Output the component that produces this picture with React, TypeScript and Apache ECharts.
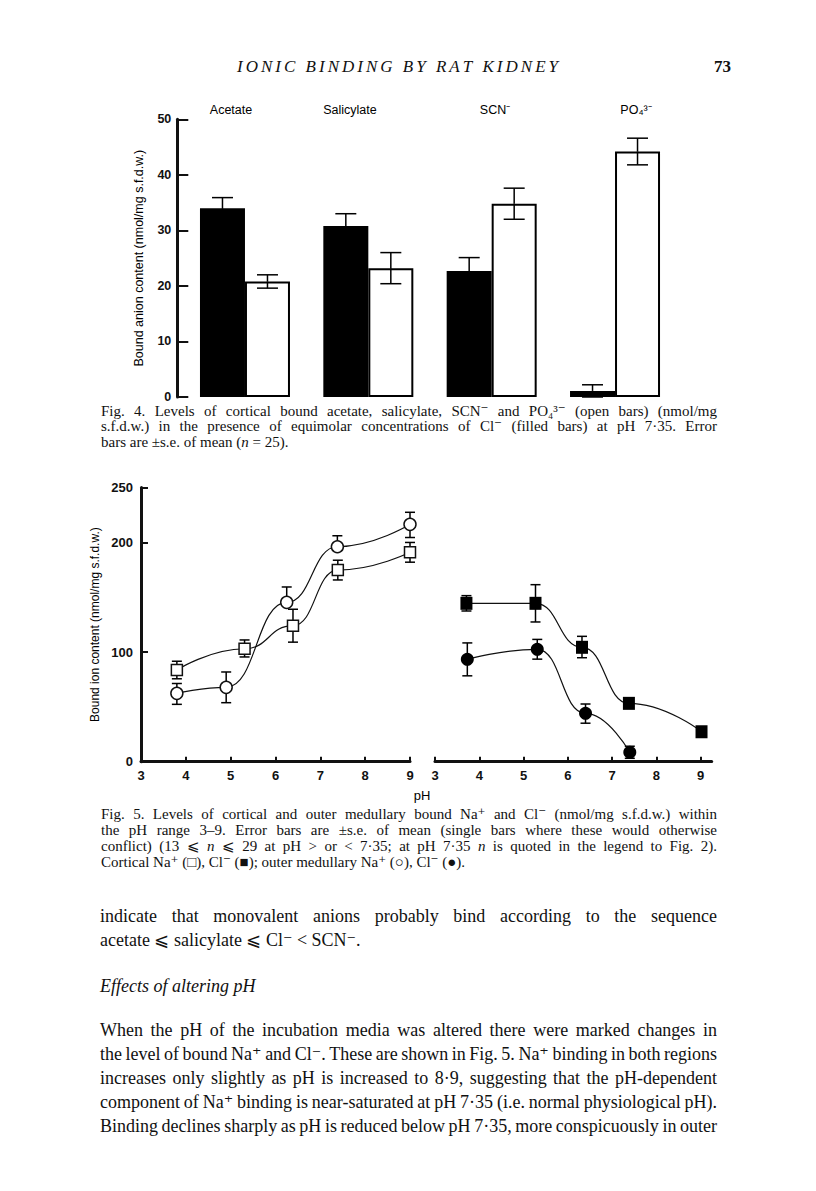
import React, { useEffect, useRef } from 'react';
import * as echarts from 'echarts';

// ---------- Fig. 4 data ----------
const fig4Categories = ['Acetate', 'Salicylate', 'SCN⁻', 'PO₄³⁻'];
const fig4Chloride = [34.0, 30.8, 22.7, 1.1]; // filled bars (Cl-)
const fig4ChlorideSE = [1.9, 2.2, 2.4, 1.1];
const fig4Anion = [20.8, 23.2, 34.8, 44.2]; // open bars
const fig4AnionSE = [1.2, 2.8, 2.8, 2.4];

// ---------- Fig. 5 data ----------
// cortical Na+ (open squares)
const corticalNaPH = [3.8, 5.31, 6.39, 7.39, 9.0];
const corticalNa = [83.6, 103, 124, 174.7, 190.9];
const corticalNaUp = [8, 8, 15, 9, 9];
const corticalNaDown = [8, 7.5, 15, 9, 9];
// outer medullary Na+ (open circles)
const medullaryNaPH = [3.8, 4.9, 6.25, 7.38, 9.0];
const medullaryNa = [62.3, 67.8, 145.3, 196, 216.4];
const medullaryNaUp = [9, 14, 14, 10, 11];
const medullaryNaDown = [10, 14, 0, 0, 12];
// cortical Cl- (filled squares)
const corticalClPH = [3.71, 5.27, 6.32, 7.38, 9.02];
const corticalCl = [144.4, 144.4, 104.3, 53.2, 27.3];
const corticalClUp = [7, 17, 10, 3, 3];
const corticalClDown = [7, 17, 9.5, 3, 3];
// outer medullary Cl- (filled circles)
const medullaryClPH = [3.73, 5.31, 6.4, 7.4];
const medullaryCl = [93.3, 102.5, 44.1, 8.6];
const medullaryClUp = [15, 9, 8.5, 5.5];
const medullaryClDown = [15, 9, 9, 5.5];

const fig5YTicks = [0, 100, 200, 250];
const pHTicks = [3, 4, 5, 6, 7, 8, 9];

// ---------- Texts ----------
const headerTitle = 'IONIC BINDING BY RAT KIDNEY';
const pageNumber = '73';
const fig4Caption = [
  'Fig. 4. Levels of cortical bound acetate, salicylate, SCN⁻ and PO₄³⁻ (open bars) (nmol/mg',
  's.f.d.w.) in the presence of equimolar concentrations of Cl⁻ (filled bars) at pH 7·35. Error',
  'bars are ±s.e. of mean (*n* = 25).',
];
const fig5Caption = [
  'Fig. 5. Levels of cortical and outer medullary bound Na⁺ and Cl⁻ (nmol/mg s.f.d.w.) within',
  'the pH range 3–9. Error bars are ±s.e. of mean (single bars where these would otherwise',
  'conflict) (13 ⩽ *n* ⩽ 29 at pH > or < 7·35; at pH 7·35 *n* is quoted in the legend to Fig. 2).',
  'Cortical Na⁺ (□), Cl⁻ (■); outer medullary Na⁺ (○), Cl⁻ (●).',
];
const bodyLines1 = [
  'indicate that monovalent anions probably bind according to the sequence',
  'acetate ⩽ salicylate ⩽ Cl⁻ < SCN⁻.',
];
const sectionHeading = 'Effects of altering pH';
const bodyLines2 = [
  'When the pH of the incubation media was altered there were marked changes in',
  'the level of bound Na⁺ and Cl⁻. These are shown in Fig. 5. Na⁺ binding in both regions',
  'increases only slightly as pH is increased to 8·9, suggesting that the pH-dependent',
  'component of Na⁺ binding is near-saturated at pH 7·35 (i.e. normal physiological pH).',
  'Binding declines sharply as pH is reduced below pH 7·35, more conspicuously in outer',
];

const SERIF = '"Liberation Serif", "DejaVu Serif", serif';
const SANS = '"Liberation Sans", Arial, sans-serif';

let measureCtx: CanvasRenderingContext2D | null = null;
function measure(t: string, font: string): number {
  if (!measureCtx) measureCtx = document.createElement('canvas').getContext('2d');
  measureCtx!.font = font;
  return measureCtx!.measureText(t).width;
}
function fontStr(size: number, italic: boolean, weight = 'normal', family = SERIF) {
  return `${italic ? 'italic ' : ''}${weight} ${size}px ${family}`;
}

function layoutLine(line: string, x0: number, y: number, width: number, size: number, justify: boolean, baseItalic = false): any[] {
  const words = line.split(' ');
  const parsed = words.map((w) => {
    const segs = w
      .split('*')
      .map((t, i) => ({ t, it: (i % 2 === 1) !== baseItalic }))
      .filter((s) => s.t.length > 0);
    const ws = segs.map((s) => measure(s.t, fontStr(size, s.it)));
    return { segs, ws, w: ws.reduce((a, b) => a + b, 0) };
  });
  const spaceW = measure(' ', fontStr(size, baseItalic));
  const sumW = parsed.reduce((a, p) => a + p.w, 0);
  const n = parsed.length;
  let gap = spaceW;
  let scale = 1;
  if (justify && n > 1) {
    gap = (width - sumW) / (n - 1);
    if (gap < spaceW * 0.55) {
      gap = spaceW * 0.55;
      scale = width / (sumW + gap * (n - 1));
    }
  }
  const els: any[] = [];
  let cum = 0;
  parsed.forEach((p) => {
    let segCum = cum;
    p.segs.forEach((s, k) => {
      els.push({
        type: 'text',
        x: x0 + segCum * scale,
        y,
        scaleX: scale,
        silent: true,
        style: {
          text: s.t,
          fontSize: size,
          fontFamily: SERIF,
          fontStyle: s.it ? 'italic' : 'normal',
          fill: '#111',
          align: 'left',
          verticalAlign: 'middle',
        },
      });
      segCum += p.ws[k];
    });
    cum += p.w + gap;
  });
  return els;
}

function headerElements(): any[] {
  const size = 17;
  const f = fontStr(size, true);
  const chars = headerTitle.split('');
  const ws = chars.map((c) => measure(c, f));
  const total = ws.reduce((a, b) => a + b, 0);
  const target = 321;
  const ls = (target - total) / (chars.length - 1);
  let x = 237;
  const els: any[] = [];
  chars.forEach((c, i) => {
    if (c !== ' ') {
      els.push({
        type: 'text', x, y: 66, silent: true,
        style: { text: c, fontSize: size, fontFamily: SERIF, fontStyle: 'italic', fill: '#111', align: 'left', verticalAlign: 'middle' },
      });
    }
    x += ws[i] + ls;
  });
  els.push({
    type: 'text', x: 714, y: 66, silent: true,
    style: { text: pageNumber, fontSize: 17, fontWeight: 'bold', fontFamily: SERIF, fill: '#111', align: 'left', verticalAlign: 'middle' },
  });
  return els;
}

function errorBars(capHalf: number, dx: number) {
  return (params: any, api: any) => {
    const x = api.value(0);
    const y = api.value(1);
    const up = api.value(2);
    const down = api.value(3);
    const c = api.coord([x, y]);
    const cx = c[0] + dx;
    const st = { stroke: '#000', lineWidth: 1.5, fill: 'none' };
    const children: any[] = [];
    if (up > 0) {
      const t = api.coord([x, y + up]);
      children.push({ type: 'line', shape: { x1: cx, y1: c[1], x2: cx, y2: t[1] }, style: st });
      children.push({ type: 'line', shape: { x1: cx - capHalf, y1: t[1], x2: cx + capHalf, y2: t[1] }, style: st });
    }
    if (down > 0) {
      const b = api.coord([x, y - down]);
      children.push({ type: 'line', shape: { x1: cx, y1: c[1], x2: cx, y2: b[1] }, style: st });
      children.push({ type: 'line', shape: { x1: cx - capHalf, y1: b[1], x2: cx + capHalf, y2: b[1] }, style: st });
    }
    return { type: 'group', children };
  };
}

const pts = (xs: number[], ys: number[]) => xs.map((x, i) => [x, ys[i]]);
const errPts = (xs: number[], ys: number[], up: number[], down: number[]) =>
  xs.map((x, i) => [x, ys[i], up[i], down[i]]);

export default function App() {
  const ref = useRef<HTMLDivElement>(null);
  useEffect(() => {
    if (!ref.current) return;
    const chart = echarts.init(ref.current, null, { renderer: 'svg' });

    const tickLabel = { fontFamily: SANS, fontWeight: 'bold' as const, fontSize: 13, color: '#111' };
    const axisLine = { show: true, lineStyle: { color: '#111', width: 3 } };
    const tickStyle = { color: '#111', width: 2 };

    const graphic: any[] = [];
    graphic.push(...headerElements());
    // Fig.4 category labels
    const fig4LabelX = [231, 350, 495, 636];
    fig4Categories.forEach((c, i) => {
      graphic.push({
        type: 'text', x: fig4LabelX[i], y: 110, silent: true,
        style: { text: c, fontFamily: SANS, fontSize: 12.5, fontWeight: 'normal', fill: '#000', align: 'center', verticalAlign: 'middle' },
      });
    });
    graphic.push({
      type: 'text', x: 422, y: 795, silent: true,
      style: { text: 'pH', fontFamily: SANS, fontSize: 13, fontWeight: 'normal', fill: '#000', align: 'center', verticalAlign: 'middle' },
    });
    const capY4 = [410.5, 426, 441.5];
    fig4Caption.forEach((l, i) => graphic.push(...layoutLine(l, 101, capY4[i], 616, 15, i < fig4Caption.length - 1)));
    const capY5 = [814, 830, 846, 862];
    fig5Caption.forEach((l, i) => graphic.push(...layoutLine(l, 101, capY5[i], 616, 15, i < fig5Caption.length - 1)));
    const b1Y = [916, 940];
    bodyLines1.forEach((l, i) => graphic.push(...layoutLine(l, 100, b1Y[i], 617, 18, i === 0)));
    graphic.push(...layoutLine(sectionHeading, 100, 986, 617, 18, false, true));
    const b2Y = [1030, 1054, 1078, 1102, 1126];
    bodyLines2.forEach((l, i) => graphic.push(...layoutLine(l, 100, b2Y[i], 617, 18, true)));

    const option: any = {
      animation: false,
      backgroundColor: '#fff',
      textStyle: { fontFamily: SANS },
      grid: [
        { left: 183.3, top: 119.3, width: 493.4, height: 277.7 },
        { left: 141, top: 487.5, width: 269, height: 274.2 },
        { left: 435, top: 487.5, width: 276.7, height: 274.2 },
      ],
      xAxis: [
        {
          gridIndex: 0, type: 'category', data: fig4Categories,
          axisLine: { show: false }, axisTick: { show: false }, axisLabel: { show: false }, splitLine: { show: false },
        },
        {
          gridIndex: 1, type: 'value', min: 3, max: 9, interval: 1,
          axisLine, splitLine: { show: false },
          axisTick: { show: true, inside: true, length: 5, lineStyle: tickStyle },
          axisLabel: { ...tickLabel, margin: 7 },
        },
        {
          gridIndex: 2, type: 'value', min: 3, max: 9.25,
          axisLine, splitLine: { show: false },
          axisTick: { show: true, inside: true, length: 5, customValues: pHTicks, lineStyle: tickStyle },
          axisLabel: { ...tickLabel, margin: 7, customValues: pHTicks },
        },
      ],
      yAxis: [
        {
          gridIndex: 0, type: 'value', min: 0, max: 50, interval: 10, offset: 6,
          axisLine, splitLine: { show: false },
          axisTick: { show: true, inside: true, length: 11, lineStyle: tickStyle },
          axisLabel: { ...tickLabel, fontSize: 12.5, margin: 6 },
          name: 'Bound anion content (nmol/mg s.f.d.w.)', nameLocation: 'middle', nameGap: 32,
          nameTextStyle: { fontFamily: SANS, fontSize: 12.5, color: '#000' },
        },
        {
          gridIndex: 1, type: 'value', min: 0, max: 250,
          axisLine, splitLine: { show: false },
          axisTick: { show: true, inside: true, length: 7, customValues: fig5YTicks, lineStyle: tickStyle },
          axisLabel: { ...tickLabel, margin: 8, customValues: fig5YTicks },
          name: 'Bound ion content (nmol/mg s.f.d.w.)', nameLocation: 'middle', nameGap: 40,
          nameTextStyle: { fontFamily: SANS, fontSize: 12, color: '#000' },
        },
        { gridIndex: 2, type: 'value', min: 0, max: 250, show: false },
      ],
      graphic,
      series: [
        {
          type: 'bar', name: 'Cl⁻', xAxisIndex: 0, yAxisIndex: 0, data: fig4Chloride,
          barWidth: 45, barGap: '0%', itemStyle: { color: '#000' }, z: 2,
        },
        {
          type: 'bar', name: 'Anion', xAxisIndex: 0, yAxisIndex: 0, data: fig4Anion,
          barWidth: 45, barGap: '0%', itemStyle: { color: '#fff', borderColor: '#000', borderWidth: 2 }, z: 2,
        },
        {
          type: 'custom', xAxisIndex: 0, yAxisIndex: 0, z: 5,
          renderItem: errorBars(10.5, -22.5),
          data: fig4Chloride.map((v, i) => [i, v, fig4ChlorideSE[i], fig4ChlorideSE[i]]),
        },
        {
          type: 'custom', xAxisIndex: 0, yAxisIndex: 0, z: 5,
          renderItem: errorBars(10.5, 22.5),
          data: fig4Anion.map((v, i) => [i, v, fig4AnionSE[i], fig4AnionSE[i]]),
        },
        // Fig 5 error bars
        { type: 'custom', xAxisIndex: 1, yAxisIndex: 1, z: 1, renderItem: errorBars(5, 0), data: errPts(corticalNaPH, corticalNa, corticalNaUp, corticalNaDown) },
        { type: 'custom', xAxisIndex: 1, yAxisIndex: 1, z: 1, renderItem: errorBars(5, 0), data: errPts(medullaryNaPH, medullaryNa, medullaryNaUp, medullaryNaDown) },
        { type: 'custom', xAxisIndex: 2, yAxisIndex: 2, z: 1, renderItem: errorBars(5, 0), data: errPts(corticalClPH, corticalCl, corticalClUp, corticalClDown) },
        { type: 'custom', xAxisIndex: 2, yAxisIndex: 2, z: 1, renderItem: errorBars(5, 0), data: errPts(medullaryClPH, medullaryCl, medullaryClUp, medullaryClDown) },
        // Fig 5 lines
        {
          type: 'line', name: 'Cortical Na⁺', xAxisIndex: 1, yAxisIndex: 1, z: 3,
          data: pts(corticalNaPH, corticalNa), smooth: 0.5, smoothMonotone: 'x',
          symbol: 'rect', symbolSize: 11, lineStyle: { color: '#111', width: 1.2 },
          itemStyle: { color: '#fff', borderColor: '#111', borderWidth: 1.5 },
        },
        {
          type: 'line', name: 'Outer medullary Na⁺', xAxisIndex: 1, yAxisIndex: 1, z: 3,
          data: pts(medullaryNaPH, medullaryNa), smooth: 0.5, smoothMonotone: 'x',
          symbol: 'circle', symbolSize: 12, lineStyle: { color: '#111', width: 1.2 },
          itemStyle: { color: '#fff', borderColor: '#111', borderWidth: 1.5 },
        },
        {
          type: 'line', name: 'Cortical Cl⁻', xAxisIndex: 2, yAxisIndex: 2, z: 3,
          data: pts(corticalClPH, corticalCl), smooth: 0.5, smoothMonotone: 'x',
          symbol: 'rect', symbolSize: [12, 13], lineStyle: { color: '#111', width: 1.2 },
          itemStyle: { color: '#000' },
        },
        {
          type: 'line', name: 'Outer medullary Cl⁻', xAxisIndex: 2, yAxisIndex: 2, z: 3,
          data: pts(medullaryClPH, medullaryCl), smooth: 0.5, smoothMonotone: 'x',
          symbol: 'circle', symbolSize: 13, lineStyle: { color: '#111', width: 1.2 },
          itemStyle: { color: '#000' },
        },
      ],
    };
    chart.setOption(option);
    return () => chart.dispose();
  }, []);
  return (
    <div
      ref={ref}
      style={{ position: 'absolute', left: 0, top: 0, width: 816, height: 1191, background: '#fff' }}
    />
  );
}
